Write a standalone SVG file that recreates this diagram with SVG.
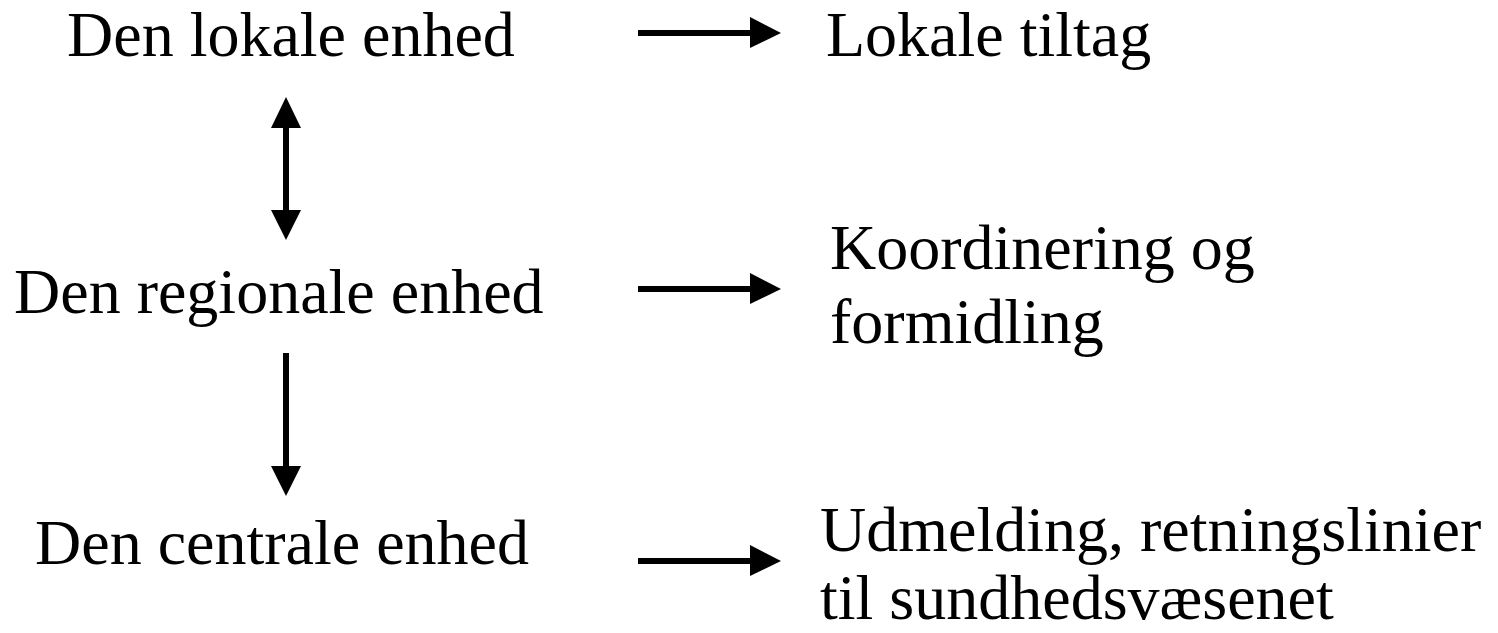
<svg xmlns="http://www.w3.org/2000/svg" width="1498" height="633" viewBox="0 0 1498 633">
<style>
text{font-family:"Liberation Serif","Times New Roman",serif;font-size:64px;fill:#000}
.ln{stroke:#000;stroke-width:6;fill:none}
.hd{fill:#000}
</style>
<rect width="1498" height="633" fill="#fff"/>
<g id="node-lokal"><text x="67" y="56">Den lokale enhed</text></g>
<g id="node-regional"><text x="14" y="313">Den regionale enhed</text></g>
<g id="node-central"><text x="35" y="564">Den centrale enhed</text></g>
<g id="node-lokale-tiltag"><text x="826" y="56">Lokale tiltag</text></g>
<g id="node-koordinering"><text x="830" y="269">Koordinering og</text><text x="830" y="343">formidling</text></g>
<g id="node-udmelding"><text x="820" y="551">Udmelding, retningslinier</text><text x="820" y="619">til sundhedsvæsenet</text></g>
<g id="connectors">
<line class="ln" x1="638" y1="33" x2="752" y2="33"/><polygon class="hd" points="750,17 781,33 750,48"/>
<line class="ln" x1="638" y1="289" x2="752" y2="289"/><polygon class="hd" points="750,273 781,289 750,304"/>
<line class="ln" x1="638" y1="561" x2="752" y2="561"/><polygon class="hd" points="750,545 781,561 750,576"/>
<line class="ln" x1="286" y1="126" x2="286" y2="212"/><polygon class="hd" points="271,128 286,97 301,128"/><polygon class="hd" points="271,210 286,240 301,210"/>
<line class="ln" x1="286" y1="353" x2="286" y2="468"/><polygon class="hd" points="271,466 286,496 301,466"/>
</g>
</svg>
